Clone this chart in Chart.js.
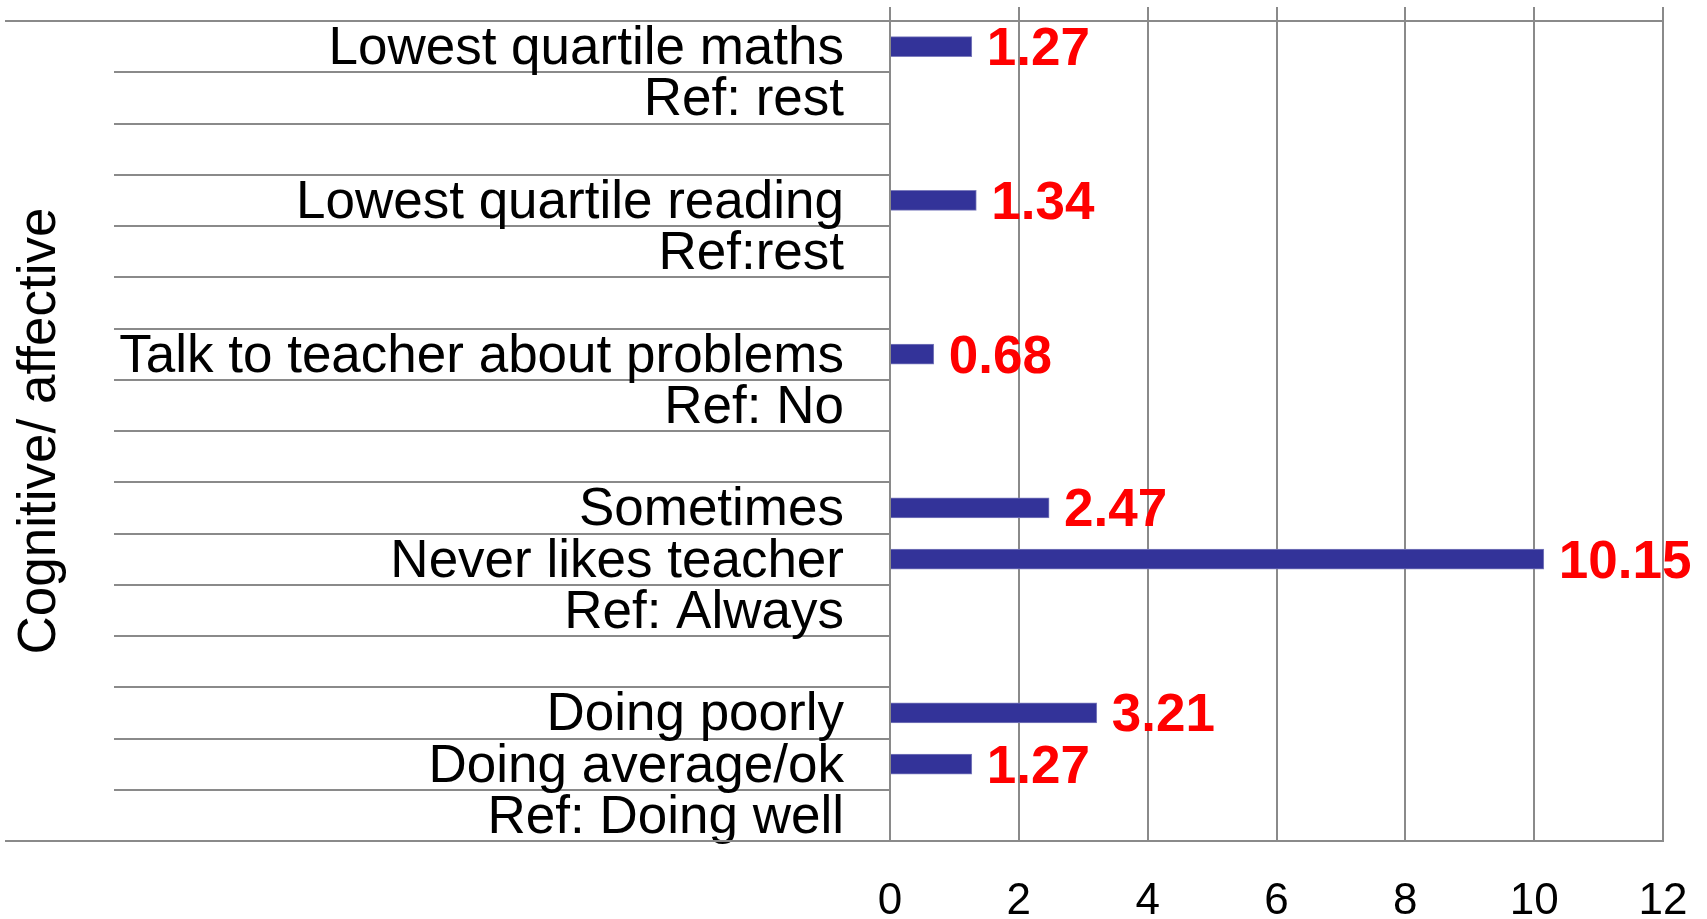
<!DOCTYPE html>
<html>
<head>
<meta charset="utf-8">
<title>Cognitive/ affective</title>
<script src="https://cdn.jsdelivr.net/npm/chart.js@4.4.1/dist/chart.umd.min.js"></script>
<style>
  html, body { margin: 0; padding: 0; background: #fff; overflow: hidden; }
  #wrap { width: 1707px; height: 919px; }
</style>
</head>
<body>
<div id="wrap"><canvas id="oddsChart"></canvas></div>
<script>
const categories = [
  "Lowest quartile maths", "Ref: rest", "",
  "Lowest quartile reading", "Ref:rest", "",
  "Talk to teacher about problems", "Ref: No", "",
  "Sometimes", "Never likes teacher", "Ref: Always", "",
  "Doing poorly", "Doing average/ok", "Ref: Doing well"
];
const oddsRatios = [
  1.27, null, null,
  1.34, null, null,
  0.68, null, null,
  2.47, 10.15, null, null,
  3.21, 1.27, null
];
const xTicks = [0, 2, 4, 6, 8, 10, 12];
const groupTitle = "Cognitive/ affective";

const FONT = "'Liberation Sans', Arial, sans-serif";
const GRID = "#8a8a8a";

// red numbers to the right of each bar
const valueLabels = {
  id: "valueLabels",
  afterDatasetsDraw(chart) {
    const ctx = chart.ctx;
    const meta = chart.getDatasetMeta(0);
    ctx.save();
    ctx.fillStyle = "#ff0000";
    ctx.font = "bold 53px " + FONT;
    ctx.textAlign = "left";
    ctx.textBaseline = "middle";
    meta.data.forEach((bar, i) => {
      const v = oddsRatios[i];
      if (v === null) return;
      ctx.fillText(v.toFixed(2), bar.x + 15, bar.y + 4);
    });
    ctx.restore();
  }
};

// outer border lines of the category label block
const outerLines = {
  id: "outerLines",
  afterDraw(chart) {
    const { ctx, chartArea } = chart;
    ctx.save();
    ctx.strokeStyle = GRID;
    ctx.lineWidth = 2;
    ctx.beginPath();
    ctx.moveTo(5, chartArea.top);
    ctx.lineTo(chartArea.left, chartArea.top);
    ctx.moveTo(5, chartArea.bottom);
    ctx.lineTo(chartArea.left, chartArea.bottom);
    ctx.stroke();
    ctx.restore();
  }
};

const ctx = document.getElementById("oddsChart").getContext("2d");
new Chart(ctx, {
  type: "bar",
  data: {
    labels: categories,
    datasets: [
      {
        data: oddsRatios,
        backgroundColor: "#333399",
        borderColor: "#7d7dbd",
        borderWidth: 1,
        barThickness: 20,
      },
    ],
  },
  options: {
    indexAxis: "y",
    responsive: true,
    maintainAspectRatio: false,
    animation: false,
    layout: { padding: { left: 0, top: 7, right: 44, bottom: 0 } },
    plugins: {
      legend: { display: false },
      tooltip: { enabled: false },
    },
    scales: {
      x: {
        position: "bottom",
        min: xTicks[0],
        max: xTicks[xTicks.length - 1],
        ticks: {
          stepSize: xTicks[1] - xTicks[0],
          color: "#000",
          padding: 17,
          font: { family: FONT, size: 44, lineHeight: 2 },
        },
        grid: { color: GRID, lineWidth: 2, drawTicks: false },
        border: { color: GRID, width: 2 },
        afterFit(scale) {
          scale.height = 78;
        },
      },
      x2: {
        type: "linear",
        position: "top",
        min: xTicks[0],
        max: xTicks[xTicks.length - 1],
        ticks: { stepSize: xTicks[1] - xTicks[0], display: false },
        grid: { color: GRID, lineWidth: 2, drawOnChartArea: false, tickLength: 14 },
        border: { color: GRID, width: 2 },
      },
      y: {
        position: "left",
        offset: true,
        ticks: {
          autoSkip: false,
          color: "#000",
          padding: -730,
          labelOffset: 3,
          font: { family: FONT, size: 53, lineHeight: 1 },
        },
        grid: {
          offset: true,
          color: GRID,
          lineWidth: 2,
          drawOnChartArea: false,
          tickLength: 776,
        },
        border: { color: GRID, width: 2 },
        title: {
          display: true,
          text: groupTitle,
          color: "#000",
          padding: 9,
          font: { family: FONT, size: 53, lineHeight: 1.2 },
        },
        afterFit(scale) {
          scale.width = 890;
        },
      },
    },
  },
  plugins: [valueLabels, outerLines],
});
</script>
</body>
</html>
